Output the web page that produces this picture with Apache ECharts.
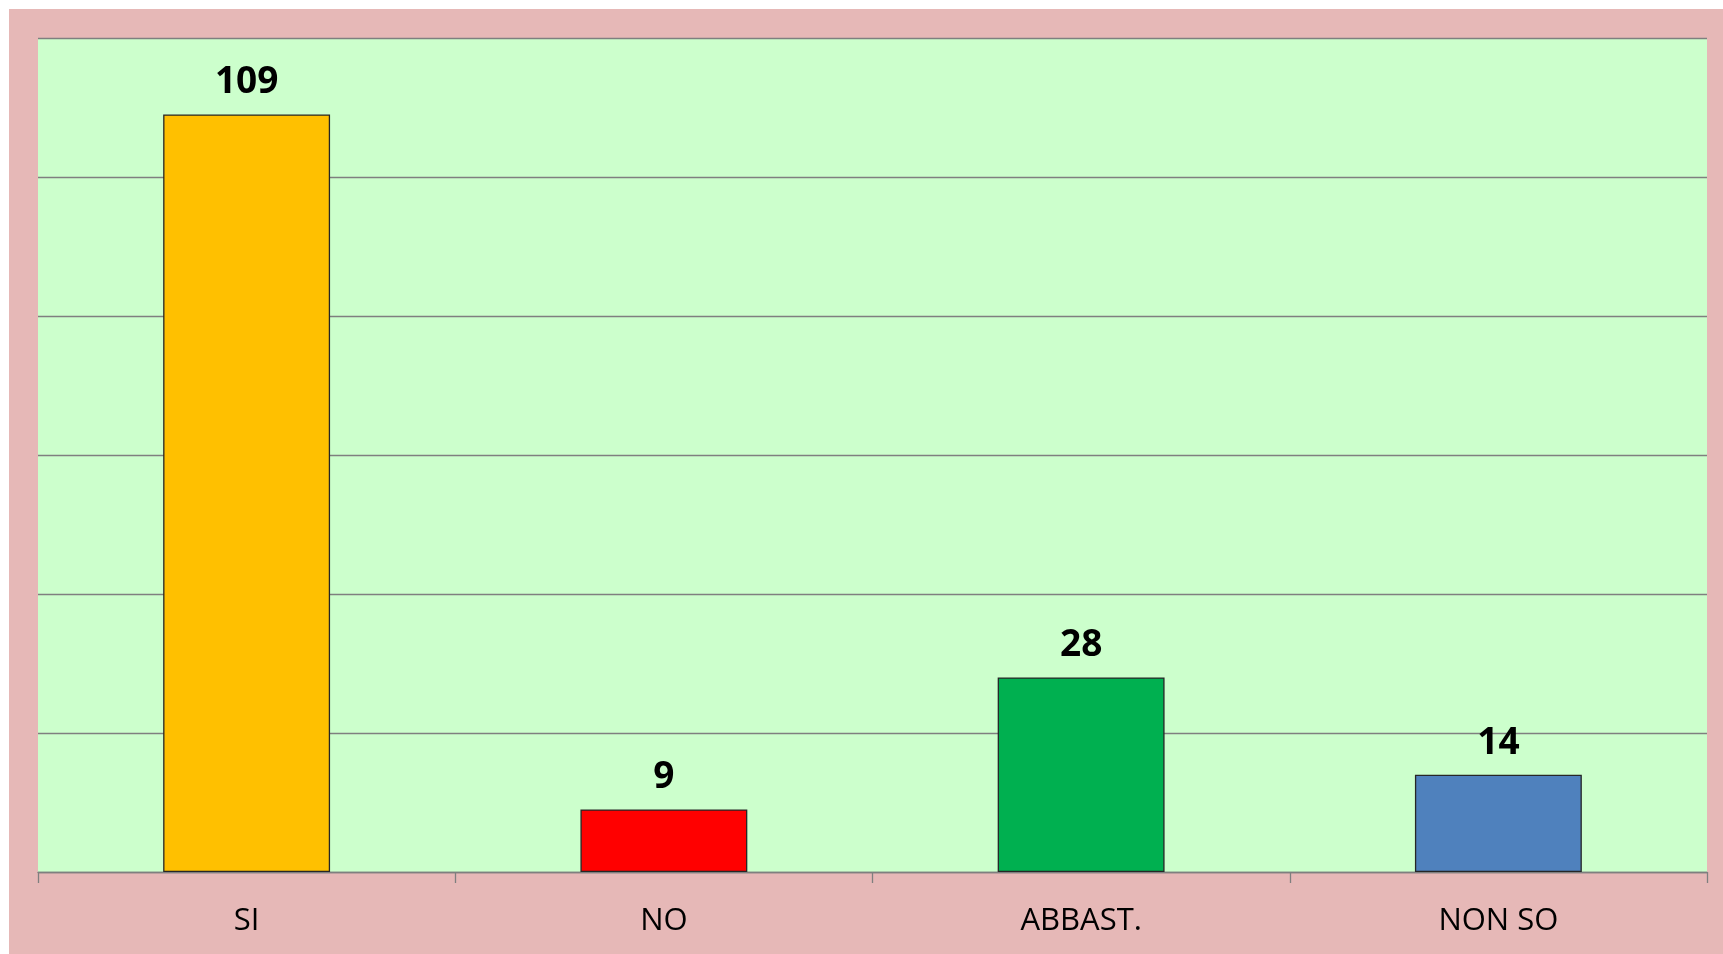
<!DOCTYPE html>
<html lang="it">
<head>
    <meta charset="UTF-8">
    <title>Risposte</title>
    <style>
        html, body { margin: 0; padding: 0; background: #ffffff; }
        #chart { position: absolute; left: 9px; top: 9px; width: 1714px; height: 945px; }
    </style>
</head>
<body>
<div id="chart"></div>
<script src="https://cdn.jsdelivr.net/npm/echarts@6/dist/echarts.min.js"></script>
<script type="text/javascript">
    const categories = ['SI', 'NO', 'ABBAST.', 'NON SO'];
    const values = [109, 9, 28, 14];
    const barColors = ['#FFC000', '#FF0000', '#00B050', '#4F81BD'];

    const chart = echarts.init(document.getElementById('chart'));

    chart.setOption({
        backgroundColor: '#E6B8B7',
        textStyle: { fontFamily: 'Open Sans' },
        grid: {
            left: 29, top: 29, right: 16, bottom: 82,
            show: true,
            backgroundColor: '#CCFFCC',
            borderWidth: 0
        },
        xAxis: {
            type: 'category',
            data: categories,
            axisLine: { lineStyle: { color: '#7f7f7f', width: 1.3 } },
            axisTick: { show: true, length: 11, lineStyle: { color: '#7f7f7f', width: 1.3 } },
            axisLabel: { color: '#000', fontSize: 31, margin: 34, fontFamily: 'Open Sans' }
        },
        yAxis: {
            type: 'value',
            min: 0,
            max: 120,
            interval: 20,
            axisLabel: { show: false },
            axisLine: { show: false },
            axisTick: { show: false },
            splitLine: { lineStyle: { color: '#7f7f7f', width: 1.3 } }
        },
        series: [{
            type: 'bar',
            barWidth: '40%',
            data: values.map((v, i) => ({
                value: v,
                itemStyle: { color: barColors[i] }
            })),
            itemStyle: { borderColor: '#262626', borderWidth: 1.3 },
            label: {
                show: true,
                position: 'top',
                distance: 13,
                color: '#000',
                fontSize: 37,
                fontWeight: 'bold',
                fontFamily: 'Open Sans'
            }
        }]
    });
</script>
</body>
</html>
